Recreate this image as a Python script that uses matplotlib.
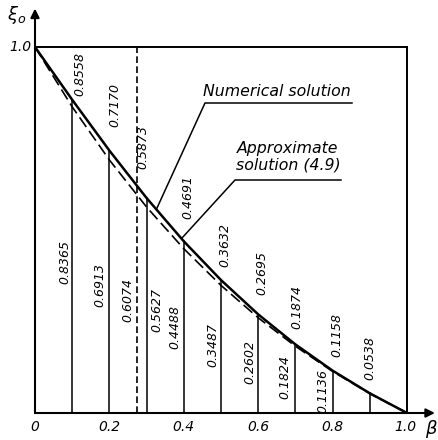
import matplotlib
matplotlib.use("Agg")
import matplotlib.pyplot as plt

# ---- data ----
beta = [0.0, 0.1, 0.2, 0.3, 0.4, 0.5, 0.6, 0.7, 0.8, 0.9, 1.0]
numerical = [1.0, 0.8558, 0.7170, 0.5873, 0.4691, 0.3632, 0.2695, 0.1874, 0.1158, 0.0538, 0.0]
approximate = [1.0, 0.8365, 0.6913, 0.5627, 0.4488, 0.3487, 0.2602, 0.1824, 0.1136, 0.0530, 0.0]
beta_star = 0.274
beta_star_label = "0.6074"
upper_labels = ["0.8558", "0.7170", "0.5873", "0.4691", "0.3632", "0.2695", "0.1874", "0.1158", "0.0538"]
lower_labels = ["0.8365", "0.6913", "0.5627", "0.4488", "0.3487", "0.2602", "0.1824", "0.1136"]
xtick_vals = [0.0, 0.2, 0.4, 0.6, 0.8, 1.0]
xtick_labels = ["0", "0.2", "0.4", "0.6", "0.8", "1.0"]

W, H = 438, 440
fig = plt.figure(figsize=(W / 100, H / 100), dpi=100)
x0, y0, sx, sy = 35, 413, 372, 366
xmax, ymax = 1.08, 1.11
ax = fig.add_axes([x0 / W, (H - y0) / H, sx * xmax / W, sy * ymax / H])
ax.set_xlim(0, xmax)
ax.set_ylim(0, ymax)
ax.axis("off")

def px(xp, yp):
    return (xp - x0) / sx, (y0 - yp) / sy

fp = dict(family="DejaVu Sans", style="italic")
k = "black"

# axes with arrows
ax.annotate("", xy=(1.075, 0), xytext=(0, 0),
            arrowprops=dict(arrowstyle="-|>", color=k, lw=1.5, mutation_scale=13, shrinkA=0, shrinkB=0))
ax.annotate("", xy=(0, 1.105), xytext=(0, 0),
            arrowprops=dict(arrowstyle="-|>", color=k, lw=1.5, mutation_scale=13, shrinkA=0, shrinkB=0))
# frame top and right
ax.plot([0, 1.0], [1.0, 1.0], color=k, lw=1.4)
ax.plot([1.0, 1.0], [0, 1.0], color=k, lw=1.4)

# vertical lines up to numerical curve
for b, v in zip(beta[1:-1], numerical[1:-1]):
    ax.plot([b, b], [0, v], color=k, lw=1.1)
# dashed vertical
ax.plot([beta_star, beta_star], [0, 1.0], color=k, lw=1.2, ls=(0, (4, 2)))

# curves
ax.plot(beta, numerical, color=k, lw=1.8)
ax.plot(beta, approximate, color=k, lw=1.2, ls=(0, (7, 3)))

# value labels (pixel positions measured from reference)
upper_pos = [(80, 74), (115, 105), (143, 147), (188, 197), (225, 245),
             (262, 273), (297, 307), (337, 335), (370, 358)]
lower_pos = [(65, 262), (100, 285), (157, 310), (175, 327), (213, 345),
             (250, 362), (285, 377), (323, 391)]
lf = 9.0
for t, (a, b) in zip(upper_labels, upper_pos):
    xx, yy = px(a, b)
    ax.text(xx, yy, t, rotation=90, ha="center", va="center", fontsize=lf, **fp)
for t, (a, b) in zip(lower_labels, lower_pos):
    xx, yy = px(a, b)
    ax.text(xx, yy, t, rotation=90, ha="center", va="center", fontsize=lf, **fp)
xx, yy = px(128, 300)
ax.text(xx, yy, beta_star_label, rotation=90, ha="center", va="center", fontsize=lf, **fp)

# annotations
a1 = px(157, 208); a2 = px(205, 103); a3 = px(352, 103)
ax.plot([a1[0], a2[0], a3[0]], [a1[1], a2[1], a3[1]], color=k, lw=1.1)
tx, ty = px(277, 92)
ax.text(tx, ty, "Numerical solution", ha="center", va="center", fontsize=11.3, **fp)
b1 = px(182, 238); b2 = px(235, 180); b3 = px(341, 180)
ax.plot([b1[0], b2[0], b3[0]], [b1[1], b2[1], b3[1]], color=k, lw=1.1)
tx, ty = px(288, 157)
ax.text(tx, ty, "Approximate\nsolution (4.9)", ha="center", va="center", fontsize=11.3,
        linespacing=1.1, **fp)

# tick labels
for v, t in zip(xtick_vals, xtick_labels):
    xx, yy = px(x0 + v * sx - (2 if v == 1.0 else 0), 427)
    ax.text(xx, yy, t, ha="center", va="center", fontsize=10, **fp)
xx, yy = px(20, 47)
ax.text(xx, yy, "1.0", ha="center", va="center", fontsize=10, **fp)
xx, yy = px(17, 15)
ax.text(xx, yy, r"$\xi_o$", ha="center", va="center", fontsize=13)
xx, yy = px(431, 429)
ax.text(xx, yy, r"$\beta$", ha="center", va="center", fontsize=13)

fig.savefig("out.png", dpi=100)
